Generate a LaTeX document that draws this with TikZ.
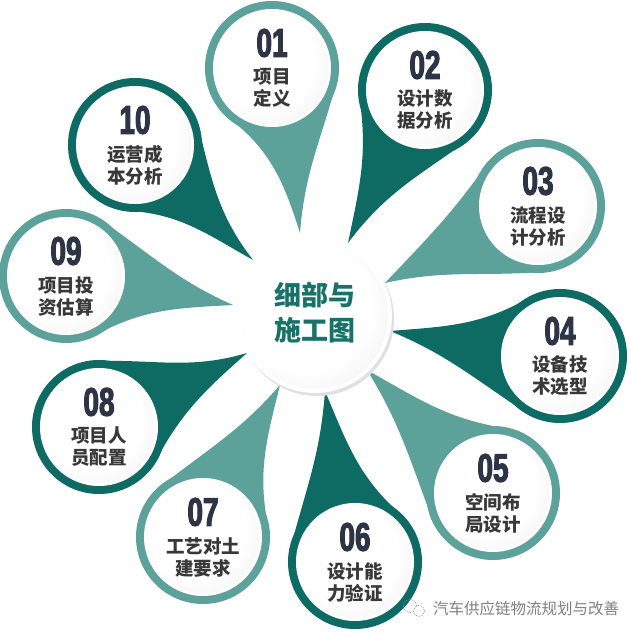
\documentclass[tikz,border=0pt]{standalone}
\usepackage{fontspec}
\usetikzlibrary{calc}
\newfontfamily\cjk{Noto Sans CJK SC}
\newfontfamily\numfont{Liberation Sans}[FakeStretch=0.7,FakeBold=2.5]
\definecolor{dteal}{HTML}{0E6B63}
\definecolor{lteal}{HTML}{5CA29B}
\definecolor{navy}{HTML}{2C3446}
\definecolor{txtc}{HTML}{383838}
\definecolor{ctext}{HTML}{17736A}
\pgfdeclareradialshading{discshade}{\pgfpoint{-6bp}{6bp}}{color(0bp)=(white); color(22bp)=(white); color(40bp)=(black!8); color(50bp)=(black!21)}
\def\setpar#1/#2/#3/#4\relax{\def\gL{#1}\def\gR{#2}\def\dL{#3}\def\dR{#4}}
% #1 id, #2 cx, #3 cy, #4 tx, #5 ty (pixels, y down), #6 colour, #7 gl/gr/dl/dr
\newcommand\petal[7]{%
  \setpar#7\relax
  \pgfmathsetmacro\th{atan2(#3-#5,#4-#2)}%
  \coordinate (#1c) at (#2,{638-#3});
  \coordinate (#1t) at (#4,{638-#5});
  \fill[#6] ($(#1c)+(\th+\gL:66)$) to[out=\th+\gL-90,in=\th-\dL+180] (#1t)
     to[out=\th+\dR+180,in=\th-\gR+90] ($(#1c)+(\th-\gR:66)$) -- (#1c) -- cycle;
  \fill[#6] (#1c) circle[radius=67pt];
}
\newcommand\petaltext[4]{%
  \fill[white] (#1c) circle[radius=59pt];
  \shade[shading=discshade] (#1c) circle[radius=56.5pt];
  \node[numtxt] (#1num) at ($(#1c)+(0,25)$) {#2};
  \node[cjktxt] (#1txt) at ($(#1c)+(0,-20)$) {#3\\#4};
}
\tikzset{
  numtxt/.style={inner sep=0pt, text=navy, font=\numfont\bfseries\fontsize{40}{40}\selectfont},
  cjktxt/.style={inner sep=0pt, align=center, text=txtc, font=\cjk\bfseries\fontsize{18.5}{22}\selectfont},
  centertxt/.style={inner sep=0pt, align=center, text=ctext, font=\cjk\bfseries\fontsize{27}{35}\selectfont},
  marktxt/.style={inner sep=0pt, text=black!50, font=\cjk\fontsize{15.5}{16}\selectfont}
}
\begin{document}
\begin{tikzpicture}[x=1pt,y=1pt]
\fill[white] (0,0) rectangle (630,638);
\useasboundingbox (0,0) rectangle (630,638);
\petal{p01}{272}{68}{300}{233}{lteal}{65/48/14/8}
\petal{p02}{425}{90}{348}{243}{dteal}{62/55/10/15}
\petal{p03}{538}{206}{385}{283}{lteal}{68/62/14/20}
\petal{p04}{560}{356}{390}{331}{dteal}{65/52/14/13}
\petal{p05}{493}{493}{367}{370}{lteal}{65/55/14/15}
\petal{p06}{355}{562}{325}{391}{dteal}{65/52/14/13}
\petal{p07}{203}{537}{280}{385}{lteal}{65/52/14/13}
\petal{p08}{99}{427}{247}{353}{dteal}{65/55/10/15}
\petal{p09}{66}{276}{233}{305}{lteal}{65/52/14/13}
\petal{p10}{135}{145}{253}{260}{dteal}{58/50/8/15}
\petaltext{p01}{01}{项目}{定义}
\petaltext{p02}{02}{设计数}{据分析}
\petaltext{p03}{03}{流程设}{计分析}
\petaltext{p04}{04}{设备技}{术选型}
\petaltext{p05}{05}{空间布}{局设计}
\petaltext{p06}{06}{设计能}{力验证}
\petaltext{p07}{07}{工艺对土}{建要求}
\petaltext{p08}{08}{项目人}{员配置}
\petaltext{p09}{09}{项目投}{资估算}
\petaltext{p10}{10}{运营成}{本分析}
% centre
\coordinate (cc) at (315,322);
\fill[black!12] ($(cc)+(2,-3)$) circle[radius=77pt];
\fill[white] (cc) circle[radius=77pt];
\shade[shading=discshade] (cc) circle[radius=73pt];
\node[centertxt] (ctitle) at (315,325) {细部与\\施工图};
% watermark
\coordinate (ic1) at (410,32);
\coordinate (ic2) at (419,27);
\draw[black!45, line width=0.7pt, densely dotted] (ic1) circle[radius=6.5pt];
\draw[black!45, line width=0.7pt, densely dotted, fill=white] (ic2) circle[radius=5.5pt];
\node[marktxt] (mark) at (526,29) {汽车供应链物流规划与改善};
\end{tikzpicture}
\end{document}
